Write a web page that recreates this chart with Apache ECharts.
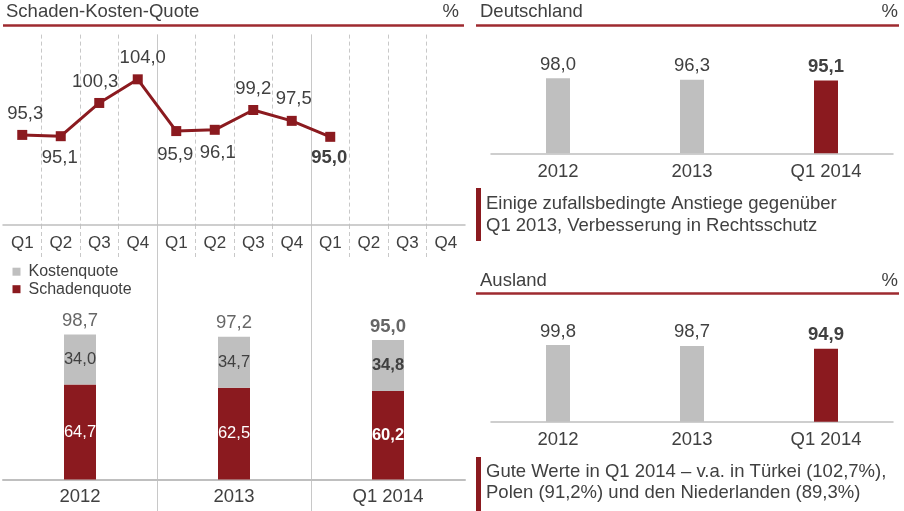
<!DOCTYPE html>
<html><head><meta charset="utf-8">
<script src="https://cdn.jsdelivr.net/npm/echarts@6/dist/echarts.min.js"></script>
<style>html,body{margin:0;padding:0;background:#fff}#c{width:904px;height:511px}</style>
</head><body><div id="c"></div>
<script>
const quarters = ['Q1','Q2','Q3','Q4','Q1','Q2','Q3','Q4','Q1','Q2','Q3','Q4'];
const combinedRatio = [95.3,95.1,100.3,104.0,95.9,96.1,99.2,97.5,95.0,null,null,null];
const years = ['2012','2013','Q1 2014'];
const lossRatio = [64.7,62.5,60.2];
const expenseRatio = [34.0,34.7,34.8];
const totalRatio = [98.7,97.2,95.0];
const germany = [98.0,96.3,95.1];
const international = [99.8,98.7,94.9];
const germanyNote = ['Einige zufallsbedingte Anstiege gegenüber','Q1 2013, Verbesserung in Rechtsschutz'];
const intlNote = ['Gute Werte in Q1 2014 – v.a. in Türkei (102,7%),','Polen (91,2%) und den Niederlanden (89,3%)'];

// label styling (not data)
const linePos = ['top','bottom','top','top','bottom','bottom','top','top','bottom'];
const lineOff = [[3,0],[-1,0],[-4,0],[5,0],[-1,2],[3,2],[0,0],[2,0],[-1,0]];

const RED = '#8b1a1f', GRAY = '#bfbfbf', TXT = '#404040', GRID = '#c8c8c8';
const FONT = "'Liberation Sans', Arial, sans-serif";
const FS = 18.5;
const fmt = v => v.toFixed(1).replace('.', ',');

const chart = echarts.init(document.getElementById('c'), null, {renderer: 'canvas'});

const lineData = combinedRatio.map((v, i) => v == null ? null : ({
  value: v,
  label: {position: linePos[i], offset: lineOff[i], fontWeight: i === 8 ? 'bold' : 'normal'}
}));
const lastBold = arr => arr.map((v, i) => ({value: v, label: {fontWeight: i === arr.length - 1 ? 'bold' : 'normal'}}));
const colored = arr => arr.map((v, i) => ({value: v, itemStyle: {color: i === arr.length - 1 ? RED : GRAY},
  label: {fontWeight: i === arr.length - 1 ? 'bold' : 'normal'}}));

const hiddenY = (gi, min, max) => ({type: 'value', gridIndex: gi, min, max, show: false});
const g = (o) => Object.assign({outerBoundsMode: 'none', containLabel: false}, o);

const text = (x, y, t, align) => ({type: 'text', x, y, silent: true,
  style: {text: t, fill: TXT, font: FS + 'px ' + FONT, align: align || 'left', verticalAlign: 'middle'}});

const dashed = {show: true, showMinLine: false, showMaxLine: false, lineStyle: {type: [4, 3], color: GRID, width: 1}};
const solid = {show: true, showMinLine: false, showMaxLine: false, lineStyle: {color: GRID, width: 1}};

chart.setOption({
  animation: false,
  textStyle: {fontFamily: FONT, color: TXT},
  grid: [
    g({left: 3, width: 462, top: 34.6, height: 190.4}),
    g({left: 3, width: 462, top: 225, height: 33}),
    g({left: 3, width: 462, top: 34.6, height: 444.9}),
    g({left: 3, width: 462, top: 479.5, height: 31.5}),
    g({left: 491, width: 402, top: 76.8, height: 76.5}),
    g({left: 491, width: 402, top: 344.9, height: 76.8})
  ],
  legend: {
    data: ['Kostenquote', 'Schadenquote'], orient: 'vertical', left: 12.5, top: 263.7, padding: 0,
    itemWidth: 8, itemHeight: 8, itemGap: 1.5, icon: 'rect',
    textStyle: {fontSize: 16, color: TXT, fontFamily: FONT, padding: [0, 0, 0, 3]}
  },
  xAxis: [
    {type: 'category', gridIndex: 0, data: quarters, axisLine: {lineStyle: {color: GRAY, width: 1.5}},
     axisTick: {show: false}, axisLabel: {fontSize: 17, color: TXT, margin: 10}, splitLine: dashed},
    {type: 'category', gridIndex: 1, data: quarters, axisLine: {show: false}, axisTick: {show: false},
     axisLabel: {show: false}, splitLine: dashed},
    {type: 'category', gridIndex: 2, data: years, axisLine: {lineStyle: {color: GRAY, width: 2}},
     axisTick: {show: false}, axisLabel: {fontSize: FS, color: TXT, margin: 8}, splitLine: solid},
    {type: 'category', gridIndex: 3, data: years, axisLine: {show: false}, axisTick: {show: false},
     axisLabel: {show: false}, splitLine: solid},
    {type: 'category', gridIndex: 4, data: years, axisLine: {lineStyle: {color: GRAY, width: 1.5}},
     axisTick: {show: false}, axisLabel: {fontSize: FS, color: TXT, margin: 9}},
    {type: 'category', gridIndex: 5, data: years, axisLine: {lineStyle: {color: GRAY, width: 1.5}},
     axisTick: {show: false}, axisLabel: {fontSize: FS, color: TXT, margin: 9}}
  ],
  yAxis: [
    hiddenY(0, 81.2, 111),
    hiddenY(1, 0, 1),
    hiddenY(2, 0, 302.9),
    hiddenY(3, 0, 1),
    hiddenY(4, 0, 100),
    hiddenY(5, 0, 100)
  ],
  series: [
    {type: 'line', name: 'Schaden-Kosten-Quote', xAxisIndex: 0, yAxisIndex: 0, data: lineData,
     symbol: 'rect', symbolSize: 10, color: RED, lineStyle: {color: RED, width: 3}, itemStyle: {color: RED},
     label: {show: true, fontSize: FS, color: TXT, distance: 7, formatter: p => fmt(p.value)}, z: 5},
    {type: 'bar', name: 'Schadenquote', xAxisIndex: 2, yAxisIndex: 2, stack: 'a', data: lastBold(lossRatio),
     barWidth: 32, itemStyle: {color: RED},
     label: {show: true, position: 'inside', fontSize: 16.5, color: '#fff', formatter: p => fmt(p.value)}},
    {type: 'bar', name: 'Kostenquote', xAxisIndex: 2, yAxisIndex: 2, stack: 'a', data: lastBold(expenseRatio),
     barWidth: 32, itemStyle: {color: GRAY},
     label: {show: true, position: 'inside', fontSize: 16.5, color: TXT, formatter: p => fmt(p.value)}},
    {type: 'scatter', name: 'Gesamt', xAxisIndex: 2, yAxisIndex: 2, data: lastBold(totalRatio), symbolSize: 0,
     label: {show: true, position: 'top', distance: 4, fontSize: FS, color: TXT, formatter: p => fmt(p.value)}},
    {type: 'bar', name: 'Deutschland', xAxisIndex: 4, yAxisIndex: 4, data: colored(germany), barWidth: 24,
     label: {show: true, position: 'top', distance: 4, fontSize: FS, color: TXT, formatter: p => fmt(p.value)}},
    {type: 'bar', name: 'Ausland', xAxisIndex: 5, yAxisIndex: 5, data: colored(international), barWidth: 24,
     label: {show: true, position: 'top', distance: 4, fontSize: FS, color: TXT, formatter: p => fmt(p.value)}}
  ],
  graphic: [
    text(6, 11.7, 'Schaden-Kosten-Quote'),
    text(459, 11.7, '%', 'right'),
    text(480, 11.7, 'Deutschland'),
    text(898, 11.7, '%', 'right'),
    text(480, 280.7, 'Ausland'),
    text(898, 280.7, '%', 'right'),
    {type: 'line', silent: true, shape: {x1: 3, y1: 25.5, x2: 464, y2: 25.5}, style: {stroke: '#9e2a2f', lineWidth: 2.5}},
    {type: 'line', silent: true, shape: {x1: 476, y1: 25.5, x2: 899, y2: 25.5}, style: {stroke: '#9e2a2f', lineWidth: 2.5}},
    {type: 'line', silent: true, shape: {x1: 476, y1: 293.5, x2: 899, y2: 293.5}, style: {stroke: '#9e2a2f', lineWidth: 2.5}},
    {type: 'rect', silent: true, shape: {x: 476, y: 188, width: 5, height: 53}, style: {fill: RED}},
    {type: 'rect', silent: true, shape: {x: 476, y: 457, width: 5, height: 54}, style: {fill: RED}},
    text(486, 204, germanyNote[0]),
    text(486, 225.5, germanyNote[1]),
    text(486, 471.5, intlNote[0]),
    text(486, 492.5, intlNote[1])
  ]
});
</script></body></html>
